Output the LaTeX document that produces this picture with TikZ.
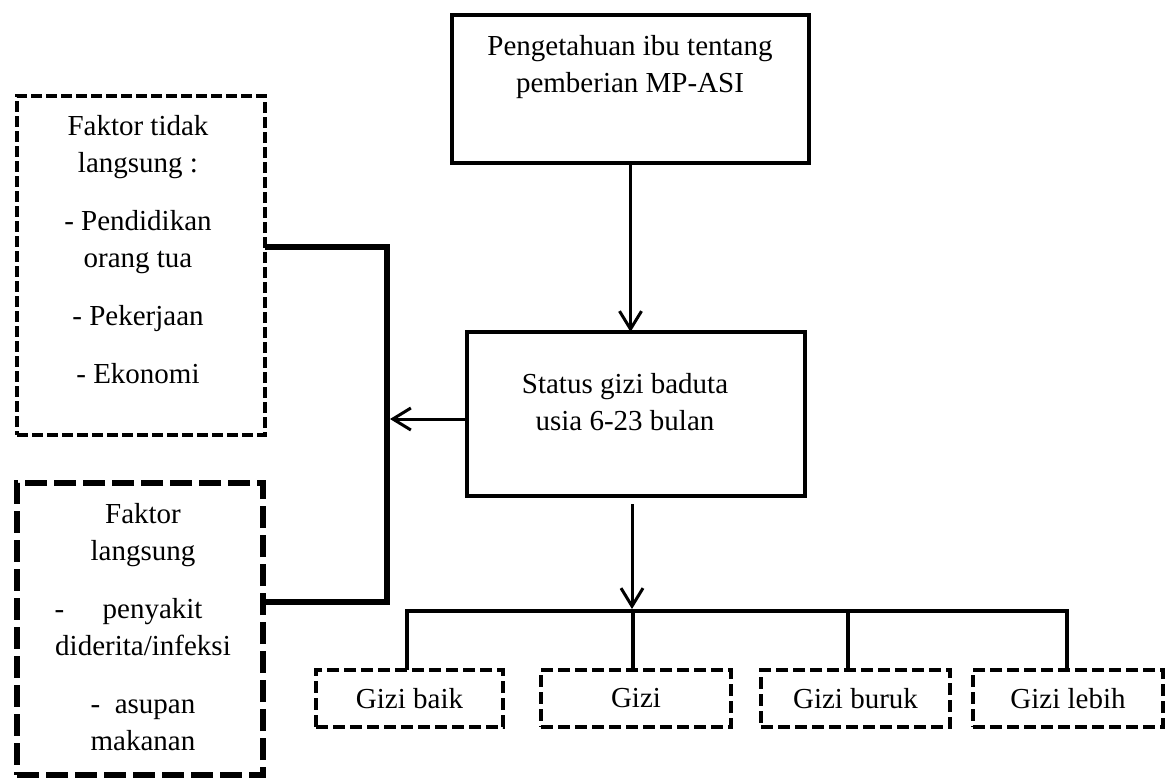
\documentclass[tikz,border=0pt]{standalone}
\usepackage{fontspec}
\setmainfont{Liberation Serif}
\usetikzlibrary{arrows.meta}
\tikzset{
  solidbox/.style={draw, line width=2pt, inner sep=0pt, outer sep=0pt},
  dashboxa/.style={draw, line width=2.25pt, dash pattern=on 5.5pt off 2pt, inner sep=0pt, outer sep=0pt},
  dashboxb/.style={draw, line width=3.25pt, dash pattern=on 11pt off 3.5pt, inner sep=0pt, outer sep=0pt},
  gizibox/.style={draw, line width=2.25pt, dash pattern=on 6pt off 2.5pt, inner sep=0pt, outer sep=0pt,
    minimum height=28.5pt, font=\fontsize{14.5}{18.5}\selectfont},
  txt/.style={anchor=north, inner sep=0pt, align=center, font=\fontsize{14.5}{18.5}\selectfont},
  arr/.style={line width=1.5pt, -{Straight Barb[length=9pt,width=11pt,line width=1.5pt]}},
  bracket/.style={line width=3pt},
  tree/.style={line width=2.25pt},
}
\begin{document}
\begin{tikzpicture}[x=0.5pt, y=-0.5pt]
\useasboundingbox (0,0) rectangle (1173,778);
% boxes
\node[solidbox, minimum width=178.5pt, minimum height=74pt] (top) at (630.5,89) {};
\node[solidbox, minimum width=169pt, minimum height=82pt] (mid) at (636,414) {};
\node[dashboxa, minimum width=124pt, minimum height=169.5pt] (f1) at (141,265.5) {};
\node[dashboxb, minimum width=123pt, minimum height=146pt] (f2) at (140,629) {};
\node[gizibox, minimum width=93.5pt] (g1) at (409.5,698.5) {Gizi baik};
\node[gizibox, minimum width=95pt] (g2) at (636,698.5) {Gizi};
\node[gizibox, minimum width=94.5pt] (g3) at (855.5,698.5) {Gizi buruk};
\node[gizibox, minimum width=95pt] (g4) at (1068,698.5) {Gizi lebih};
% texts
\node[txt] (topT) at (630,35) {Pengetahuan ibu tentang\\pemberian MP-ASI};
\node[txt] (midT) at (625,373) {Status gizi baduta\\usia 6-23 bulan};
\node[txt] (f1T) at (138,115) {Faktor tidak\\langsung :\\[10.5pt]- Pendidikan\\orang tua\\[10.5pt]- Pekerjaan\\[10.5pt]- Ekonomi};
\node[txt] (f2T) at (143,503) {Faktor\\langsung\\[10.5pt]\makebox[88.5pt][l]{\makebox[74pt]{-\hfill penyakit}}\\diderita/infeksi\\[10.5pt]-\ \ asupan\\makanan};
% connectors
\coordinate (b1) at (387,247);
\coordinate (b2) at (387,602);
\coordinate (br) at (390,419);
\draw[bracket] (b1 -| f1.east) -- (b1) -- (b2) -- (b2 -| f2.east);
\draw[arr] (mid.west |- br) -- (br);
\draw[arr] (top.south) -- (top.south |- mid.north);
\coordinate (j1) at (407,611);
\coordinate (j2) at (633,611);
\coordinate (j3) at (848,611);
\coordinate (j4) at (1067,611);
\coordinate (d1) at (632,609);
\draw[arr] ([shift={(-4,8)}]mid.south) -- (d1);
\draw[tree] (j1 |- g1.north) -- (j1) -- (j4) -- (j4 |- g4.north);
\draw[tree] (j2) -- (j2 |- g2.north);
\draw[tree] (j3) -- (j3 |- g3.north);
\end{tikzpicture}
\end{document}
